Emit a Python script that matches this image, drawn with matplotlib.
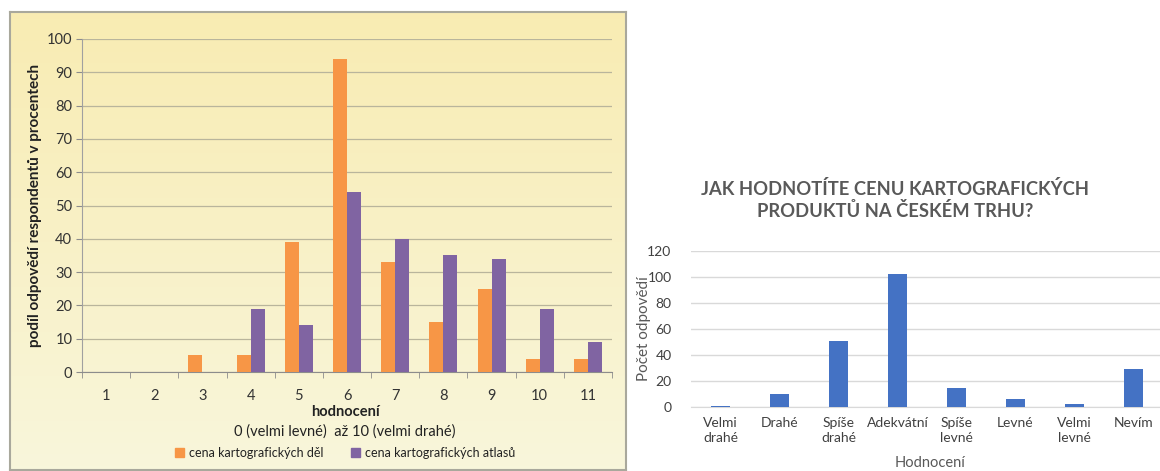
import numpy as np
import matplotlib.pyplot as plt
from matplotlib.patches import Patch

W, H = 1160, 471

# levy graf
hodnoceni = [str(i) for i in range(1, 12)]
dila = [0, 0, 5, 5, 39, 94, 33, 15, 25, 4, 4]
atlasy = [0, 0, 0, 19, 14, 54, 40, 35, 34, 19, 9]

# pravy graf
kategorie = ["Velmi\ndrahé", "Drahé", "Spíše\ndrahé", "Adekvátní",
             "Spíše\nlevné", "Levné", "Velmi\nlevné", "Nevím"]
pocty = [1, 10, 51, 102, 15, 6, 2, 29]

plt.rcParams['font.family'] = ['Lato', 'DejaVu Sans']


def box(x0, y0, x1, y1):
    return [x0 / W, 1 - y1 / H, (x1 - x0) / W, (y1 - y0) / H]


fig = plt.figure(figsize=(W / 100, H / 100), dpi=100)

# zluty podklad s prechodem
bg = fig.add_axes(box(10, 12, 626, 470))
grad = np.linspace(0, 1, 256).reshape(-1, 1)
top = np.array([0.976, 0.925, 0.700])
bot = np.array([0.975, 0.965, 0.860])
img = (top + (bot - top) * grad[..., None]).reshape(256, 1, 3)
bg.imshow(img, aspect='auto', extent=[0, 1, 0, 1])
bg.set_xticks([])
bg.set_yticks([])
for s in bg.spines.values():
    s.set_color('#a9a89c')
    s.set_linewidth(1.5)

ax = fig.add_axes(box(82, 39, 612, 372))
ax.set_facecolor('none')
x = np.arange(len(hodnoceni))
bw = 0.29
ax.bar(x - bw / 2, dila, bw, color='#f79646', zorder=3)
ax.bar(x + bw / 2, atlasy, bw, color='#8064a2', zorder=3)
ax.set_xlim(-0.5, len(hodnoceni) - 0.5)
ax.set_ylim(0, 100)
ax.set_yticks(range(0, 101, 10))
ax.set_xticks(x)
ax.set_xticklabels(hodnoceni)
ax.set_xticks(np.arange(-0.5, len(hodnoceni)), minor=True)
ax.tick_params(axis='x', which='major', length=0, pad=12, labelsize=10.5, colors='#333333')
ax.tick_params(axis='x', which='minor', length=4, color='#8c8c8c')
ax.tick_params(axis='y', length=4, color='#8c8c8c', labelsize=10.5, colors='#333333', pad=3)
ax.grid(axis='y', color='#b9b59c', linewidth=0.9, zorder=0)
for s in ['top', 'right']:
    ax.spines[s].set_visible(False)
ax.spines['left'].set_color('#a0a0a0')
ax.spines['bottom'].set_color('#8c8c8c')
ax.set_ylabel("podíl odpovědí respondentů v procentech", fontsize=11,
              fontweight='bold', color='#222222')
ax.yaxis.set_label_coords((42 - 82) / 530, 0.5)
fig.text(345 / W, 1 - 412 / H, "hodnocení", ha='center', va='center',
         fontsize=10.5, fontweight='bold', color='#222222')
fig.text(345 / W, 1 - 432 / H, "0 (velmi levné)  až 10 (velmi drahé)",
         ha='center', va='center', fontsize=10.5, color='#222222')
fig.legend(handles=[Patch(color='#f79646', label='cena kartografických děl'),
                    Patch(color='#8064a2', label='cena kartografických atlasů')],
           loc='center', bbox_to_anchor=(345 / W, 1 - 453 / H), ncol=2,
           frameon=False, fontsize=9, handlelength=0.7, handleheight=0.7,
           handletextpad=0.4, columnspacing=2.2, labelcolor='#222222')

# pravy graf
ax2 = fig.add_axes(box(691, 251, 1163, 407))
x2 = np.arange(len(kategorie))
ax2.bar(x2, pocty, 0.31, color='#4472c4', zorder=3)
ax2.set_xlim(-0.5, len(kategorie) - 0.5)
ax2.set_ylim(0, 120)
ax2.set_yticks(range(0, 121, 20))
ax2.set_xticks(x2)
ax2.set_xticklabels(kategorie, fontsize=10, color='#404040', linespacing=1.35)
ax2.tick_params(axis='both', length=0, colors='#404040', labelsize=10)
ax2.tick_params(axis='x', pad=7)
ax2.tick_params(axis='y', pad=14)
ax2.grid(axis='y', color='#d9d9d9', linewidth=1, zorder=0)
for s in ['top', 'right', 'left']:
    ax2.spines[s].set_visible(False)
ax2.spines['bottom'].set_color('#d9d9d9')
ax2.set_ylabel("Počet odpovědí", fontsize=11, color='#595959')
ax2.yaxis.set_label_coords((651 - 691) / 472, 0.5)
fig.text(930 / W, 1 - 470 / H, "Hodnocení", ha='center', va='bottom',
         fontsize=10.5, color='#595959')
fig.text(895 / W, 1 - 200 / H, "JAK HODNOTÍTE CENU KARTOGRAFICKÝCH\nPRODUKTŮ NA ČESKÉM TRHU?",
         ha='center', va='center', fontsize=13.2, fontweight='bold',
         color='#595959', linespacing=1.3)

fig.savefig("out.png", dpi=100)
